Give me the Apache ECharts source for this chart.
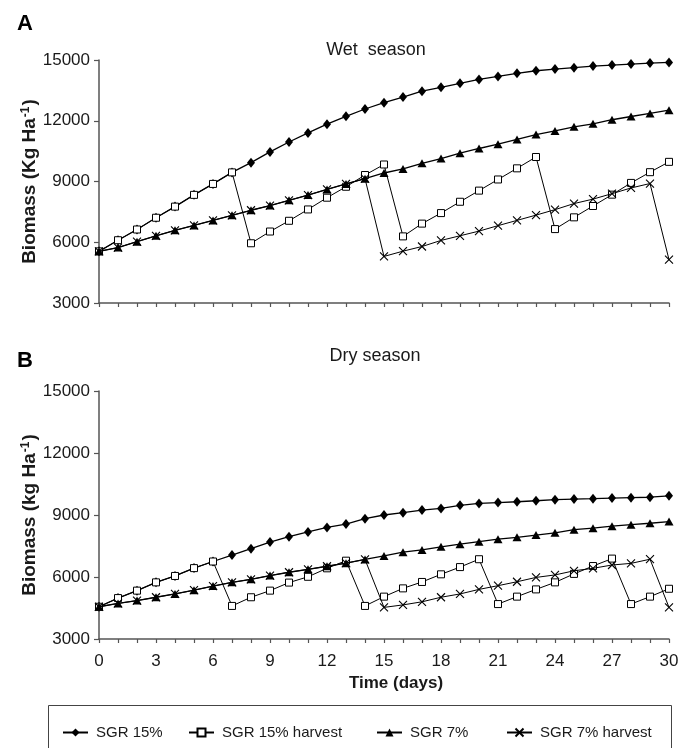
<!DOCTYPE html>
<html><head><meta charset="utf-8">
<script src="https://cdn.jsdelivr.net/npm/echarts@6/dist/echarts.min.js"></script>
<style>html,body{margin:0;padding:0;background:#fff}#c{width:686px;height:748px}</style>
</head><body><div id="c"></div>
<script>
const days = [0,1,2,3,4,5,6,7,8,9,10,11,12,13,14,15,16,17,18,19,20,21,22,23,24,25,26,27,28,29,30];
const xTicks = [0,3,6,9,12,15,18,21,24,27,30];
const yTicks = [3000,6000,9000,12000,15000];
const seriesNames = ['SGR 15%','SGR 15% harvest','SGR 7%','SGR 7% harvest'];

// Panel A – Wet season
const wetSGR15 = [5550,6100,6630,7210,7760,8340,8880,9450,9930,10460,10950,11400,11830,12220,12580,12890,13170,13460,13650,13850,14040,14190,14340,14470,14550,14620,14700,14750,14800,14850,14880];
const wetSGR15h = [5550,6100,6630,7210,7760,8340,8880,9450,5950,6530,7060,7620,8200,8740,9320,9840,6290,6920,7440,8000,8550,9100,9650,10210,6650,7230,7790,8350,8930,9460,9970];
const wetSGR7 = [5550,5740,6030,6320,6590,6830,7080,7330,7580,7810,8070,8330,8610,8880,9140,9420,9620,9900,10130,10400,10630,10840,11080,11320,11500,11700,11850,12050,12210,12360,12520];
const wetSGR7h = [5550,5740,6030,6320,6590,6830,7080,7330,7580,7810,8070,8330,8610,8880,9140,5300,5560,5790,6090,6320,6550,6820,7080,7340,7610,7910,8130,8400,8680,8900,5140];

// Panel B – Dry season
const drySGR15 = [4560,4980,5340,5740,6050,6430,6750,7060,7370,7690,7950,8180,8400,8560,8820,9000,9110,9240,9320,9470,9560,9600,9640,9690,9740,9770,9790,9820,9840,9860,9930];
const drySGR15h = [4560,4980,5340,5740,6050,6430,6750,4600,5020,5340,5730,6010,6420,6790,4600,5050,5450,5760,6130,6480,6860,4690,5050,5400,5740,6150,6530,6890,4690,5050,5430];
const drySGR7 = [4560,4720,4860,5020,5180,5360,5560,5740,5890,6070,6230,6370,6520,6670,6850,7020,7200,7310,7460,7590,7710,7830,7920,8030,8140,8290,8360,8460,8530,8600,8680];
const drySGR7h = [4560,4720,4860,5020,5180,5360,5560,5740,5890,6070,6230,6370,6520,6670,6850,4530,4650,4800,5020,5180,5400,5580,5770,5980,6100,6300,6420,6580,6660,6860,4530];

const FF = '"Liberation Sans", Arial, Helvetica, sans-serif';
const AX = '#555';
const TXT = '#1a1a1a';

const styles = [
  {symbol:'diamond', symbolSize:[8,10], itemStyle:{color:'#000'}, lineWidth:1.3},
  {symbol:'rect', symbolSize:7, itemStyle:{color:'#fff', borderColor:'#000', borderWidth:1}, lineWidth:1},
  {symbol:'triangle', symbolSize:[9,8], itemStyle:{color:'#000'}, lineWidth:1.3},
  {symbol:'path://M0,0L10,10M10,0L0,10', symbolSize:8, itemStyle:{color:'none', borderColor:'#000', borderWidth:1.1}, lineWidth:1}
];

function mk(i, values, panel){
  const s = styles[i];
  return {
    name: seriesNames[i], type:'line', xAxisIndex:panel, yAxisIndex:panel,
    data: values.map((v,k)=>[days[k], v]),
    symbol:s.symbol, symbolSize:s.symbolSize, showAllSymbol:true,
    itemStyle:s.itemStyle, lineStyle:{color:'#000', width:s.lineWidth},
    emphasis:{disabled:true}, z: 2 + i
  };
}

function xAxis(grid, showLabel){
  const a = {
    type:'value', gridIndex:grid, min:0, max:30, interval:3,
    axisLine:{show:true, lineStyle:{color:AX, width:1.5}},
    axisTick:{show:true, length:4, lineStyle:{color:AX, width:1.2}},
    minorTick:{show:true, splitNumber:3, length:4, lineStyle:{color:AX, width:1.2}},
    splitLine:{show:false}, minorSplitLine:{show:false},
    axisLabel:{show:showLabel, fontSize:17, color:TXT, fontFamily:FF, margin:14,
      formatter:(v)=> xTicks.indexOf(v) >= 0 ? String(v) : ''}
  };
  if (showLabel){
    a.name = 'Time (days)'; a.nameLocation='middle'; a.nameGap=36; a.nameMoveOverlap=false;
    a.nameTextStyle = {fontSize:17, fontWeight:'bold', color:TXT, fontFamily:FF, padding:[0,0,0,24]};
  }
  return a;
}
function yAxis(grid, unit){
  return {
    type:'value', gridIndex:grid, min:3000, max:15000, interval:3000,
    axisLine:{show:true, lineStyle:{color:AX, width:1.5}},
    axisTick:{show:true, length:5, lineStyle:{color:AX, width:1.2}},
    splitLine:{show:false},
    axisLabel:{fontSize:17, color:TXT, fontFamily:FF, margin:9,
      formatter:(v)=> yTicks.indexOf(v) >= 0 ? String(v) : ''},
    name:'{t|Biomass (' + unit + ' Ha}{s|-1}{t|)}', nameLocation:'middle', nameGap:60, nameMoveOverlap:false,
    nameTextStyle:{rich:{
      t:{fontSize:19, fontWeight:'bold', color:TXT, fontFamily:FF},
      s:{fontSize:12, fontWeight:'bold', color:TXT, fontFamily:FF, verticalAlign:'top', padding:[0,1,7,1]}
    }}
  };
}

function legend(name, left){
  return {data:[name], left:left, top:720, itemWidth:25, itemHeight:10, selectedMode:false,
    textStyle:{fontSize:15, color:TXT, fontFamily:FF, padding:[0,0,0,3]}};
}

const chart = echarts.init(document.getElementById('c'), null, {renderer:'canvas'});
chart.setOption({
  animation:false,
  backgroundColor:'#fff',
  title:[
    {text:'A', left:17, top:13, padding:0, textStyle:{fontSize:22, fontWeight:'bold', color:'#000', fontFamily:FF}},
    {text:'Wet  season', left:376, top:41, padding:0, textAlign:'center', textStyle:{fontSize:18, fontWeight:'normal', color:TXT, fontFamily:FF}},
    {text:'B', left:17, top:350, padding:0, textStyle:{fontSize:22, fontWeight:'bold', color:'#000', fontFamily:FF}},
    {text:'Dry season', left:375, top:347, padding:0, textAlign:'center', textStyle:{fontSize:18, fontWeight:'normal', color:TXT, fontFamily:FF}}
  ],
  grid:[
    {left:99, top:60, width:570, height:243},
    {left:99, top:391, width:570, height:248}
  ],
  xAxis:[xAxis(0,false), xAxis(1,true)],
  yAxis:[yAxis(0,'Kg'), yAxis(1,'kg')],
  legend:[legend(seriesNames[0],57), legend(seriesNames[1],183), legend(seriesNames[2],371), legend(seriesNames[3],501)],
  graphic:[{type:'rect', shape:{x:48.5, y:705.5, width:623, height:60}, style:{fill:'none', stroke:'#444', lineWidth:1}, silent:true}],
  series:[
    mk(0, wetSGR15, 0), mk(1, wetSGR15h, 0), mk(2, wetSGR7, 0), mk(3, wetSGR7h, 0),
    mk(0, drySGR15, 1), mk(1, drySGR15h, 1), mk(2, drySGR7, 1), mk(3, drySGR7h, 1)
  ]
});
</script>
</body></html>
